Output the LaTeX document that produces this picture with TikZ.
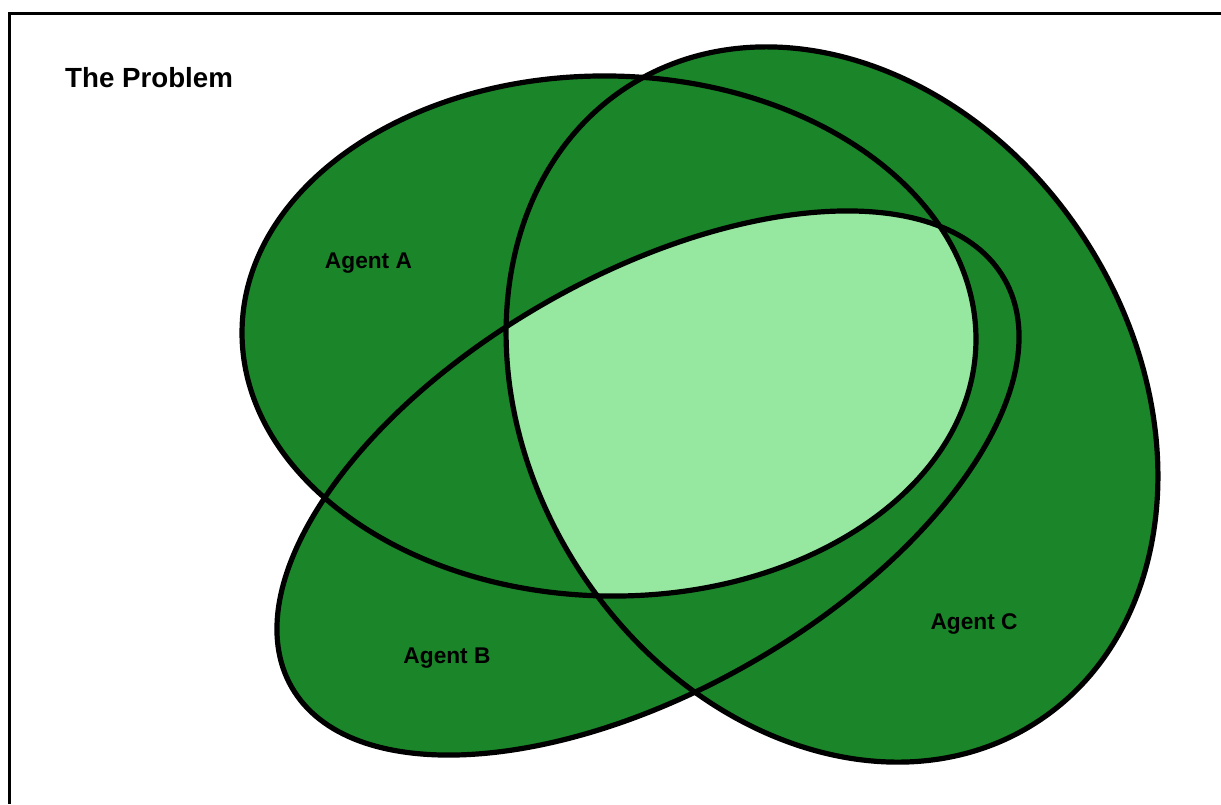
\documentclass[tikz,border=0pt]{standalone}
\usepackage{fontspec}
\setmainfont{Liberation Sans}
\definecolor{darkg}{RGB}{27,134,41}
\definecolor{lightg}{RGB}{150,232,160}
\begin{document}
\begin{tikzpicture}[x=1pt,y=-1pt,
  outline/.style={draw=black,line width=5.2pt},
  lab/.style={font=\fontsize{22.7}{26}\selectfont\bfseries,inner sep=0pt,anchor=base}]
\useasboundingbox (0,0) rectangle (1221,804);
\fill[white] (0,0) rectangle (1221,804);
% frame
\draw[line width=3pt] (9,804) -- (9,13) -- (1221,13);
% shapes
\def\ellA{(609,336) ellipse [x radius=367, y radius=260, rotate=-1]}
\def\ellB{(648,483) ellipse [x radius=410.7, y radius=207.3, rotate=29.8]}
\def\ellC{(832,404.5) ellipse [x radius=377.9, y radius=302.1, rotate=-57.4]}
\fill[darkg] \ellA;
\fill[darkg] \ellB;
\fill[darkg] \ellC;
\begin{scope}
  \clip \ellA;
  \clip \ellB;
  \fill[lightg] \ellC;
\end{scope}
\draw[outline] \ellA;
\draw[outline] \ellB;
\draw[outline] \ellC;
% labels
\node[font=\fontsize{27.7}{32}\selectfont\bfseries,inner sep=0pt,anchor=base west] (title) at (65,87) {The Problem};
\node[lab] (labA) at (368.5,268) {Agent A};
\node[lab] (labB) at (447,663) {Agent B};
\node[lab] (labC) at (974,629) {Agent C};
\end{tikzpicture}
\end{document}
